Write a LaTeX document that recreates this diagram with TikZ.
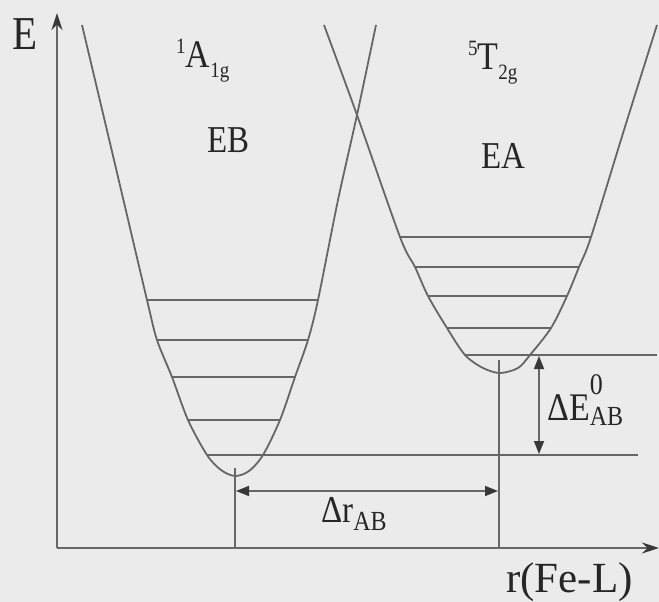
\documentclass[tikz,border=0pt]{standalone}
\usepackage{fontspec}
\setmainfont{Liberation Serif}
\usetikzlibrary{arrows.meta}
\definecolor{bg}{HTML}{EBEBEB}
\definecolor{ln}{HTML}{666666}
\definecolor{tx}{HTML}{262626}
\definecolor{tip}{HTML}{383838}
\newcommand\myfs[1]{\fontsize{#1}{#1}\selectfont}
\newcommand\vs[1]{\scalebox{1}[1.15]{#1}}
\begin{document}
\begin{tikzpicture}[x=1pt,y=-1pt,
  curve/.style={draw=ln, line width=1.8pt, line join=round},
  level/.style={draw=ln, line width=2.2pt},
  guide/.style={draw=ln, line width=1.5pt},
  dim/.style={draw=ln, line width=1.5pt, {Triangle[length=13pt,width=10pt,color=tip]}-{Triangle[length=13pt,width=10pt,color=tip]}},
  axis/.style={draw=ln, line width=1.8pt, -{Stealth[length=17pt,width=11pt,color=tip]}},
  lab/.style={text=tx, inner sep=0pt, anchor=base west}]
\fill[bg] (0,0) rectangle (659,602);
\useasboundingbox (0,0) rectangle (659,602);
% left curve points
\coordinate (a1) at (82,25);
\coordinate (a2) at (114,160);
\coordinate (a3) at (147,300);
\coordinate (a4) at (157,340);
\coordinate (a5) at (172,377);
\coordinate (a6) at (188,420);
\coordinate (a7) at (207,455);
\coordinate (a8) at (221,470);
\coordinate (a9) at (235,476);
\coordinate (a10) at (249,471);
\coordinate (a11) at (263,455);
\coordinate (a12) at (280,420);
\coordinate (a13) at (295,377);
\coordinate (a14) at (308,340);
\coordinate (a15) at (318,300);
\coordinate (a16) at (338,200);
\coordinate (a17) at (357,115);
\coordinate (a18) at (376,25);
% right curve points
\coordinate (b1) at (324,25);
\coordinate (b2) at (357,115);
\coordinate (b3) at (400,237);
\coordinate (b4) at (415,267);
\coordinate (b5) at (428,296);
\coordinate (b6) at (447,328);
\coordinate (b7) at (465,355);
\coordinate (b8) at (483,368);
\coordinate (b9) at (500,373);
\coordinate (b10) at (518,368);
\coordinate (b11) at (530,355);
\coordinate (b12) at (551,328);
\coordinate (b13) at (567,296);
\coordinate (b14) at (579,267);
\coordinate (b15) at (591,237);
\coordinate (b16) at (624,130);
\coordinate (b17) at (657,25);
\draw[curve] plot[smooth, tension=0.5] coordinates {(a1) (a2) (a3) (a4) (a5) (a6) (a7) (a8) (a9) (a10) (a11) (a12) (a13) (a14) (a15) (a16) (a17) (a18)};
\draw[curve] plot[smooth, tension=0.5] coordinates {(b1) (b2) (b3) (b4) (b5) (b6) (b7) (b8) (b9) (b10) (b11) (b12) (b13) (b14) (b15) (b16) (b17)};
% levels
\draw[level] (a3) -- (a15);
\draw[level] (a4) -- (a14);
\draw[level] (a5) -- (a13);
\draw[level] (a6) -- (a12);
\coordinate (lowend) at (638,455);
\draw[guide] (a7) -- (lowend);
\draw[level] (b3) -- (b15);
\draw[level] (b4) -- (b14);
\draw[level] (b5) -- (b13);
\draw[level] (b6) -- (b12);
\coordinate (highend) at (657,355);
\draw[guide] (b7) -- (highend);
% axes
\coordinate (O) at (57,548);
\coordinate (Etop) at (57,13);
\coordinate (Rend) at (659,548);
\draw[axis] (O) -- (Etop);
\draw[axis] (O) -- (Rend);
% verticals
\coordinate (vA) at (235,468);
\coordinate (vAb) at (235,548);
\coordinate (vB) at (499,360);
\coordinate (vBb) at (499,548);
\draw[guide] (vA) -- (vAb);
\draw[guide] (vB) -- (vBb);
% dimension arrows
\coordinate (drL) at (236,491);
\coordinate (drR) at (498,491);
\draw[dim] (drL) -- (drR);
\coordinate (deT) at (539,356);
\coordinate (deB) at (539,454);
\draw[dim] (deT) -- (deB);
% labels
\node[lab, font=\myfs{41}] (Elab) at (12,50) {\vs{E}};
\node[lab, font=\myfs{43}] (rlab) at (506,592) {r(Fe-L)};
\node[lab, font=\myfs{34}] (A1g) at (176,68) {\vs{\raisebox{13pt}{\myfs{19}1}A\raisebox{-8pt}{\myfs{19}1g}}};
\node[lab, font=\myfs{33}] (EB) at (207,152) {\vs{EB}};
\node[lab, font=\myfs{34}] (T2g) at (468,70) {\vs{\raisebox{13pt}{\myfs{19}5}T\raisebox{-8pt}{\myfs{19}2g}}};
\node[lab, font=\myfs{33}] (EA) at (481,168) {\vs{EA}};
\node[lab, font=\myfs{33}] (dr) at (321,522) {\vs{Δr\raisebox{-7pt}{\myfs{24}AB}}};
\node[lab, font=\myfs{34}] (dE) at (547,420) {\vs{ΔE\rlap{\raisebox{22pt}{\myfs{26}0}}\raisebox{-5pt}{\myfs{24}AB}}};
\end{tikzpicture}
\end{document}
